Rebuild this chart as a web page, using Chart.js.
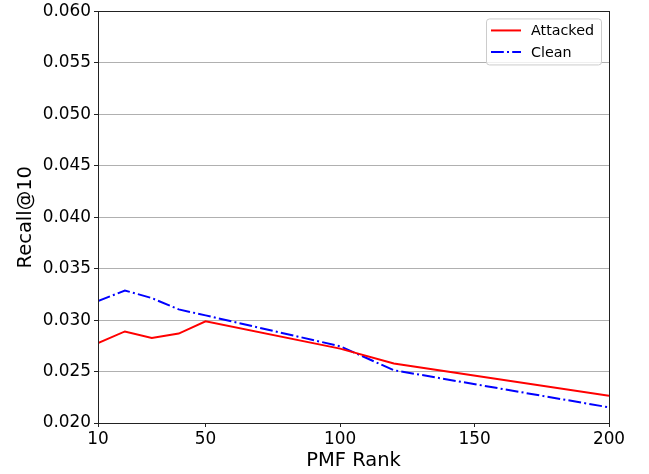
<!DOCTYPE html>
<html>
<head>
<meta charset="utf-8">
<script src="https://cdn.jsdelivr.net/npm/chart.js@4/dist/chart.umd.min.js"></script>
<style>
  html, body { margin: 0; padding: 0; background: #fff; }
  #wrap { width: 649px; height: 474px; }
</style>
</head>
<body>
<div id="wrap"><canvas id="chart"></canvas></div>
<script>
// Values
const ranks = [10, 20, 30, 40, 50, 100, 120, 200];
const attacked = [0.02777, 0.0289, 0.02826, 0.02869, 0.02988, 0.02723, 0.02578, 0.02265];
const clean = [0.03185, 0.03288, 0.03214, 0.03104, 0.03046, 0.02746, 0.02513, 0.02152];
const xTicks = [10, 50, 100, 150, 200];
const yTicks = [0.020, 0.025, 0.030, 0.035, 0.040, 0.045, 0.050, 0.055, 0.060];

const font = "'DejaVu Sans', sans-serif";

// box round the plot and the legend in the top right corner
const framePlugin = {
    id: "frame",
    afterDraw(chart) {
        const c = chart.ctx;
        const a = chart.chartArea;
        c.save();
        c.strokeStyle = "#222";
        c.lineWidth = 1;
        c.strokeRect(Math.round(a.left) + 0.5, Math.round(a.top) + 0.5,
            Math.round(a.right - a.left), Math.round(a.bottom - a.top));

        // legend
        const bx = a.right - 123, by = a.top + 7, bw = 115, bh = 46;
        c.fillStyle = "rgba(255,255,255,0.8)";
        c.strokeStyle = "#cccccc";
        c.beginPath();
        c.roundRect(bx + 0.5, by + 0.5, bw, bh, 3);
        c.fill();
        c.stroke();
        c.font = "14.3px " + font;
        c.textBaseline = "middle";
        chart.data.datasets.forEach((ds, i) => {
            const y = by + 12 + i * 21.5;
            c.strokeStyle = ds.borderColor;
            c.lineWidth = ds.borderWidth;
            c.setLineDash(ds.borderDash || []);
            c.beginPath();
            c.moveTo(bx + 5, y);
            c.lineTo(bx + 35, y);
            c.stroke();
            c.setLineDash([]);
            c.fillStyle = "#000";
            c.fillText(ds.label, bx + 45, y + 1);
        });
        c.restore();
    }
};

new Chart(document.getElementById("chart"), {
    type: "line",
    data: {
        datasets: [
            {
                label: "Attacked",
                data: ranks.map((r, i) => ({ x: r, y: attacked[i] })),
                borderColor: "#ff0000",
                borderWidth: 2,
                pointRadius: 0,
                tension: 0,
            },
            {
                label: "Clean",
                data: ranks.map((r, i) => ({ x: r, y: clean[i] })),
                borderColor: "#0000ff",
                borderWidth: 2,
                borderDash: [12.8, 3.2, 2, 3.2],
                pointRadius: 0,
                tension: 0,
            },
        ],
    },
    options: {
        responsive: true,
        maintainAspectRatio: false,
        animation: false,
        layout: { padding: { left: 0, right: 40, top: 10, bottom: 0 } },
        plugins: {
            legend: { display: false },
            tooltip: { enabled: false },
        },
        scales: {
            x: {
                type: "linear",
                min: 10,
                max: 200,
                afterBuildTicks: (s) => { s.ticks = xTicks.map(v => ({ value: v })); },
                afterFit: (s) => { s.height = 51; },
                grid: { color: "transparent", tickColor: "#222", tickLength: 4, drawTicks: true },
                border: { display: false },
                ticks: { color: "#000", font: { family: font, size: 16.9 }, padding: 2, maxRotation: 0 },
                title: { display: true, text: "PMF Rank", color: "#000", font: { family: font, size: 19.5 }, padding: { top: 0, bottom: 1 } },
            },
            y: {
                min: 0.020,
                max: 0.060,
                afterBuildTicks: (s) => { s.ticks = yTicks.map(v => ({ value: v })); },
                afterFit: (s) => { s.width = 98; },
                grid: { color: "#b0b0b0", tickColor: "#222", tickLength: 4 },
                border: { display: false },
                ticks: { color: "#000", font: { family: font, size: 16.9, lineHeight: 1 }, padding: 3, callback: (v) => v.toFixed(3) },
                title: { display: true, text: "Recall@10", color: "#000", font: { family: font, size: 19.5 }, padding: { top: 14, bottom: 4 } },
            },
        },
    },
    plugins: [framePlugin],
});
</script>
</body>
</html>
